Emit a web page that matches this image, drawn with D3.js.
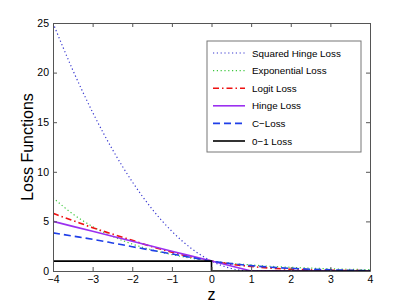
<!DOCTYPE html>
<html>
<head>
<meta charset="utf-8">
<script src="https://cdn.jsdelivr.net/npm/d3@7"></script>
<style>
  body { margin: 0; background: #fff; }
  text { font-family: "Liberation Sans", Arial, sans-serif; }
</style>
</head>
<body>
<script>
const w = 409;
const h = 305;

// sample positions along z
const zs = [-4, -3.5, -3, -2.5, -2, -1.5, -1, -0.5, 0, 0.5, 1, 1.5, 2, 2.5, 3, 3.5, 4];

const sqHinge = [25, 20.25, 16, 12.25, 9, 6.25, 4, 2.25, 1, 0.25, 0, 0, 0, 0, 0, 0, 0];
const expLoss = [7.39, 5.75, 4.48, 3.49, 2.72, 2.12, 1.65, 1.28, 1, 0.78, 0.61, 0.47, 0.37, 0.29, 0.22, 0.17, 0.14];
const logitLoss = [5.81, 5.09, 4.37, 3.72, 3.09, 2.45, 1.89, 1.40, 1, 0.68, 0.45, 0.29, 0.18, 0.11, 0.07, 0.04, 0.03];
const hingeLoss = [5, 4.5, 4, 3.5, 3, 2.5, 2, 1.5, 1, 0.5, 0, 0, 0, 0, 0, 0, 0];
const cLoss = [3.84, 3.52, 3.2, 2.83, 2.45, 2.08, 1.72, 1.36, 1, 0.74, 0.54, 0.38, 0.27, 0.18, 0.12, 0.07, 0.04];

const zeroOneZ = [-4, 0, 0, 4];
const zeroOne = [1, 1, 0, 0];

const xTicks = [-4, -3, -2, -1, 0, 1, 2, 3, 4];
const yTicks = [0, 5, 10, 15, 20, 25];

const series = [
  { name: "Squared Hinge Loss", xs: zs, ys: sqHinge, color: "#3838d0", width: 1.2, dash: "1.2,2.6", smooth: true },
  { name: "Exponential Loss", xs: zs, ys: expLoss, color: "#3ec83e", width: 1.2, dash: "1.2,2.6", smooth: true },
  { name: "Logit Loss", xs: zs, ys: logitLoss, color: "#ee1111", width: 1.6, dash: "6,3,1.5,3", smooth: true },
  { name: "Hinge Loss", xs: zs, ys: hingeLoss, color: "#9b30f0", width: 1.6, dash: null, smooth: false },
  { name: "C\u2212Loss", xs: zs, ys: cLoss, color: "#1f3fe8", width: 1.6, dash: "7,4", smooth: true },
  { name: "0\u22121 Loss", xs: zeroOneZ, ys: zeroOne, color: "#000", width: 1.6, dash: null, smooth: false }
];

const mLeft = 53, mRight = 370, mTop = 23, mBottom = 271;

const svg = d3.select("body")
    .append("svg")
    .attr("width", w)
    .attr("height", h)

const x = d3.scaleLinear().domain([-4, 4]).range([mLeft, mRight])
const y = d3.scaleLinear().domain([0, 25]).range([mBottom, mTop])

svg.append("defs").append("clipPath").attr("id", "clip")
  .append("rect")
    .attr("x", mLeft).attr("y", mTop)
    .attr("width", mRight - mLeft).attr("height", mBottom - mTop)

// curves
const plot = svg.append("g").attr("clip-path", "url(#clip)")

series.forEach(s => {
  const pts = s.xs.map((v, i) => [v, s.ys[i]])
  const line = d3.line()
    .x(d => x(d[0]))
    .y(d => y(d[1]))
    .curve(s.smooth ? d3.curveMonotoneX : d3.curveLinear)
  plot.append("path")
    .datum(pts)
    .attr("d", line)
    .attr("fill", "none")
    .attr("stroke", s.color)
    .attr("stroke-width", s.width)
    .attr("stroke-dasharray", s.dash)
})

// axes, MATLAB style box with ticks on all sides pointing in
const tickLen = 4
const axCol = "#555"

svg.append("g")
    .attr("transform", `translate(0, ${mBottom})`)
    .call(d3.axisBottom(x).tickValues(xTicks).tickSizeInner(-tickLen).tickSizeOuter(0).tickPadding(5)
      .tickFormat(d => d < 0 ? "\u2212" + Math.abs(d) : d))
    .call(g => g.selectAll("text").attr("font-size", 10.5).attr("fill", "#000"))

svg.append("g")
    .attr("transform", `translate(0, ${mTop})`)
    .call(d3.axisTop(x).tickValues(xTicks).tickSizeInner(-tickLen).tickSizeOuter(0).tickFormat(""))

svg.append("g")
    .attr("transform", `translate(${mLeft}, 0)`)
    .call(d3.axisLeft(y).tickValues(yTicks).tickSizeInner(-tickLen).tickSizeOuter(0).tickPadding(4))
    .call(g => g.selectAll("text").attr("font-size", 10.5).attr("fill", "#000"))

svg.append("g")
    .attr("transform", `translate(${mRight}, 0)`)
    .call(d3.axisRight(y).tickValues(yTicks).tickSizeInner(-tickLen).tickSizeOuter(0).tickFormat(""))

svg.selectAll(".domain").attr("stroke", axCol)
svg.selectAll(".tick line").attr("stroke", axCol)

// axis labels
svg.append("text")
    .attr("x", (mLeft + mRight) / 2)
    .attr("y", 300)
    .attr("text-anchor", "middle")
    .attr("font-size", 16)
    .text("z")

svg.append("text")
    .attr("transform", `translate(33, ${(mTop + mBottom) / 2}) rotate(-90)`)
    .attr("text-anchor", "middle")
    .attr("font-size", 16)
    .text("Loss Functions")

// legend
const lg = svg.append("g")
lg.append("rect")
    .attr("x", 207).attr("y", 41)
    .attr("width", 154).attr("height", 111)
    .attr("fill", "#fff")
    .attr("stroke", "#777")
    .attr("stroke-width", 1)

series.forEach((s, i) => {
  const yy = 53 + i * 17.6
  lg.append("line")
    .attr("x1", 213).attr("x2", 245)
    .attr("y1", yy).attr("y2", yy)
    .attr("stroke", s.color)
    .attr("stroke-width", s.width)
    .attr("stroke-dasharray", s.dash)
  lg.append("text")
    .attr("x", 252).attr("y", yy + 3.5)
    .attr("font-size", 9.8)
    .text(s.name)
})
</script>
</body>
</html>
